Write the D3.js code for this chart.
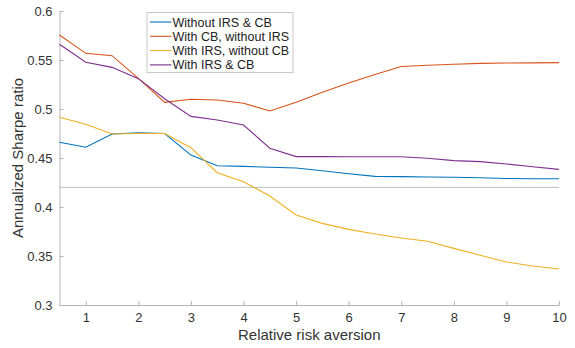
<!DOCTYPE html>
<html>
<head>
<meta charset="utf-8">
<script src="https://cdn.jsdelivr.net/npm/d3@7"></script>
<style>
  body { margin: 0; background: #fff; }
  svg { font-family: "Liberation Sans", Arial, Helvetica, sans-serif; }
  .axis path, .axis line { stroke: #b5b5b5; }
  .axis text { fill: #333; font-size: 13px; }
</style>
</head>
<body>
<div id="chart"></div>
<script>

// Relative risk aversion grid
var riskAversion = [0.5, 1, 1.5, 2, 2.5, 3, 3.5, 4, 4.5, 5, 5.5, 6, 6.5, 7, 7.5, 8, 8.5, 9, 9.5, 10];

// Annualized Sharpe ratio
var withoutIrsCb = [0.466, 0.461, 0.4745, 0.4757, 0.475, 0.453, 0.4421, 0.4415, 0.4405, 0.4398,
                    0.437, 0.434, 0.4313, 0.431, 0.4306, 0.4303, 0.4299, 0.4291, 0.4289, 0.4289];
var withCbNoIrs  = [0.5755, 0.5568, 0.5544, 0.5313, 0.5068, 0.5099, 0.5092, 0.5058, 0.498, 0.5068,
                    0.517, 0.5265, 0.5352, 0.5434, 0.5446, 0.5456, 0.5466, 0.547, 0.5471, 0.5473];
var withIrsNoCb  = [0.4915, 0.4844, 0.4745, 0.475, 0.475, 0.4605, 0.435, 0.4258, 0.4112, 0.3918,
                    0.3833, 0.3772, 0.3724, 0.3684, 0.365, 0.3578, 0.3507, 0.3439, 0.3398, 0.3367];
var withIrsCb    = [0.566, 0.5477, 0.5425, 0.531, 0.5105, 0.4925, 0.4888, 0.4837, 0.460, 0.4514,
                    0.4514, 0.4512, 0.4512, 0.4512, 0.4497, 0.4473, 0.4463, 0.4439, 0.4411, 0.4384];

var seriesNames = ["Without IRS & CB", "With CB, without IRS", "With IRS, without CB", "With IRS & CB"];
var seriesColors = ["#0072BD", "#D95319", "#EDB120", "#7E2F8E"];
var referenceLevel = 0.42;

var xTicks = [1, 2, 3, 4, 5, 6, 7, 8, 9, 10];
var yTicks = [0.3, 0.35, 0.4, 0.45, 0.5, 0.55, 0.6];

var allSeries = [withoutIrsCb, withCbNoIrs, withIrsNoCb, withIrsCb];

var margin = { top: 11, right: 16, bottom: 43, left: 59.5 };
var width = 575 - margin.left - margin.right;
var height = 348 - margin.top - margin.bottom;

var svg = d3.select("#chart").append("svg")
    .attr("width", 575)
    .attr("height", 348)
    .append("g")
    .attr("transform", "translate(" + margin.left + "," + margin.top + ")");

var x = d3.scaleLinear().domain([0.5, 10]).range([0, width]);
var y = d3.scaleLinear().domain([0.3, 0.6]).range([height, 0]);

// Axes (ticks pointing inward, MATLAB style)
var xAxis = d3.axisBottom(x)
    .tickValues(xTicks)
    .tickFormat(d3.format("d"))
    .tickSizeInner(-4)
    .tickSizeOuter(0)
    .tickPadding(8);

var yAxis = d3.axisLeft(y)
    .tickValues(yTicks)
    .tickFormat(function (d) { return d3.format("")(+d.toFixed(2)); })
    .tickSizeInner(-4)
    .tickSizeOuter(0)
    .tickPadding(7);

svg.append("g")
    .attr("class", "x-axis axis")
    .attr("transform", "translate(0," + height + ")")
    .call(xAxis);

svg.append("g")
    .attr("class", "y-axis axis")
    .call(yAxis);

// Reference line
svg.append("line")
    .attr("x1", x(0.5))
    .attr("x2", x(10))
    .attr("y1", y(referenceLevel))
    .attr("y2", y(referenceLevel))
    .attr("stroke", "#bdbdbd")
    .attr("stroke-width", 1);

// Lines
var line = d3.line()
    .x(function (d, i) { return x(riskAversion[i]); })
    .y(function (d) { return y(d); });

allSeries.forEach(function (s, i) {
    svg.append("path")
        .attr("class", "line")
        .attr("d", line(s))
        .attr("fill", "none")
        .attr("stroke", seriesColors[i])
        .attr("stroke-width", 1.1);
});

// Axis labels
svg.append("text")
    .attr("x", width / 2)
    .attr("y", 340 - margin.top)
    .attr("text-anchor", "middle")
    .attr("font-size", "15px")
    .attr("fill", "#333")
    .text("Relative risk aversion");

svg.append("text")
    .attr("transform", "translate(" + (23 - margin.left) + "," + (height / 2) + ") rotate(-90)")
    .attr("text-anchor", "middle")
    .attr("font-size", "15px")
    .attr("fill", "#333")
    .text("Annualized Sharpe ratio");

// Legend
var legend = svg.append("g")
    .attr("transform", "translate(" + (147 - margin.left) + "," + (12.5 - margin.top) + ")");

legend.append("rect")
    .attr("x", 0)
    .attr("y", 0)
    .attr("width", 146)
    .attr("height", 60)
    .attr("fill", "#fff")
    .attr("stroke", "#c8c8c8");

seriesNames.forEach(function (name, i) {
    var rowY = 9.5 + i * 14.3;
    legend.append("line")
        .attr("x1", 3)
        .attr("x2", 24.5)
        .attr("y1", rowY)
        .attr("y2", rowY)
        .attr("stroke", seriesColors[i])
        .attr("stroke-width", 1.1);
    legend.append("text")
        .attr("x", 25.5)
        .attr("y", rowY)
        .attr("dy", "0.36em")
        .attr("font-size", "12.5px")
        .attr("fill", "#222")
        .text(name);
});

</script>
</body>
</html>
